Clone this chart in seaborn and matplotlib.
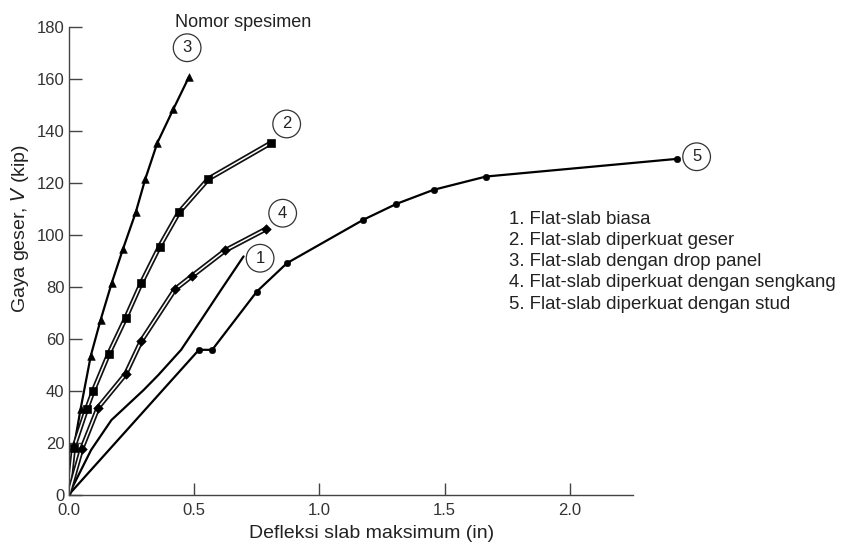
import pandas as pd
import matplotlib
matplotlib.use("Agg")
import matplotlib.pyplot as plt
import seaborn as sns

# --------- Dades (llegides del gràfic) ---------
# 1. Flat-slab biasa (sense marcadors)
x1 = [0.0, 0.09, 0.171, 0.30, 0.357, 0.449, 0.529, 0.608, 0.698]
y1 = [0.0, 17.3, 28.8, 40.4, 46.0, 55.8, 67.3, 78.8, 91.7]
# 2. Flat-slab diperkuat geser (quadrats, línia doble)
x2 = [0.0, 0.02, 0.072, 0.099, 0.16, 0.228, 0.29, 0.363, 0.44, 0.558, 0.807]
y2 = [0.0, 18.0, 33.0, 40.1, 54.2, 68.0, 81.4, 95.5, 108.6, 121.5, 135.3]
# 3. Flat-slab dengan drop panel (triangles)
x3 = [0.0, 0.023, 0.048, 0.089, 0.128, 0.172, 0.217, 0.268, 0.306, 0.354, 0.418, 0.48]
y3 = [0.0, 19.2, 33.0, 53.6, 67.3, 81.4, 94.5, 108.6, 121.4, 135.3, 148.3, 160.6]
# 4. Flat-slab diperkuat dengan sengkang (diamants, línia doble)
x4 = [0.0, 0.052, 0.118, 0.228, 0.29, 0.425, 0.493, 0.625, 0.787]
y4 = [0.0, 17.6, 33.6, 46.5, 59.2, 79.1, 84.2, 94.0, 102.2]
# 5. Flat-slab diperkuat dengan stud (cercles)
x5 = [0.0, 0.52, 0.573, 0.751, 0.871, 1.176, 1.308, 1.456, 1.665, 2.428]
y5 = [0.0, 55.8, 55.8, 78.2, 89.1, 105.8, 111.9, 117.3, 122.4, 129.2]

etiquetes = ["1", "2", "3", "4", "5"]
pos_x = [0.764, 0.870, 0.473, 0.854, 2.505]
pos_y = [91.0, 142.6, 171.9, 108.3, 130.0]

llegenda = [
    "1. Flat-slab biasa",
    "2. Flat-slab diperkuat geser",
    "3. Flat-slab dengan drop panel",
    "4. Flat-slab diperkuat dengan sengkang",
    "5. Flat-slab diperkuat dengan stud",
]

sns.set_style("white")
plt.rcParams["font.family"] = ["Liberation Sans", "DejaVu Sans"]

fig = plt.figure(figsize=(8.48, 5.45), dpi=100)
ax = fig.add_axes([0.0808, 0.0917, 0.7688, 0.8594])

df1 = pd.DataFrame({"x": x1, "y": y1})
df2 = pd.DataFrame({"x": x2, "y": y2})
df3 = pd.DataFrame({"x": x3, "y": y3})
df4 = pd.DataFrame({"x": x4, "y": y4})
df5 = pd.DataFrame({"x": x5, "y": y5})

kw = dict(x="x", y="y", sort=False, estimator=None, ax=ax)

# línia simple
sns.lineplot(data=df1, color="black", lw=1.6, **kw)
sns.lineplot(data=df3, color="black", lw=1.6, **kw)
sns.lineplot(data=df5, color="black", lw=1.6, **kw)

# línies dobles
for d in (df2, df4):
    sns.lineplot(data=d, color="#111111", lw=3.6, **kw)
    sns.lineplot(data=d, color="white", lw=1.1, **kw)

# marcadors
sns.scatterplot(data=df3.iloc[1:], x="x", y="y", marker="^", s=30, color="black",
                edgecolor="black", ax=ax, zorder=5)
sns.scatterplot(data=df2.iloc[1:], x="x", y="y", marker="s", s=34, color="black",
                edgecolor="black", ax=ax, zorder=5)
sns.scatterplot(data=df4.iloc[1:], x="x", y="y", marker="D", s=24, color="black",
                edgecolor="black", ax=ax, zorder=5)
sns.scatterplot(data=df5.iloc[1:], x="x", y="y", marker="o", s=22, color="black",
                edgecolor="black", ax=ax, zorder=5)

for t, px, py in zip(etiquetes, pos_x, pos_y):
    ax.text(px, py, t, ha="center", va="center", fontsize=12, color="#222222",
            clip_on=False,
            bbox=dict(boxstyle="circle,pad=0.38", fc="white", ec="#333333", lw=0.9))

ax.text(0.698, 181.5, "Nomor spesimen", ha="center", va="center", fontsize=13,
        color="#222222", clip_on=False)

for i, linia in enumerate(llegenda):
    fig.text(509 / 848, 1 - (219 + i * 21.3) / 545, linia, ha="left", va="center",
             fontsize=13.4, color="#222222")

ax.set_xlim(0, 2.6)
ax.set_ylim(0, 180)
ax.set_xticks([0.0, 0.5, 1.0, 1.5, 2.0])
ax.set_xticklabels(["0.0", "0.5", "1.0", "1.5", "2.0"])
ax.set_yticks(range(0, 181, 20))
ax.set_xlabel("")
ax.set_ylabel("")

for s in ("top", "right"):
    ax.spines[s].set_visible(False)
for s in ("left", "bottom"):
    ax.spines[s].set_color("#444444")
    ax.spines[s].set_linewidth(1.0)
ax.spines["bottom"].set_bounds(0, 2.25)
ax.spines["left"].set_bounds(0, 180)
ax.tick_params(direction="in", length=9, width=1.0, color="#444444",
               labelcolor="#333333", labelsize=12, left=True, bottom=True, pad=3)
ax.tick_params(axis="x", pad=6)

fig.text(20 / 848, 1 - 228 / 545, "Gaya geser, $\\mathit{V}$ (kip)", rotation=90,
         ha="center", va="center", fontsize=14, color="#222222")
fig.text(372 / 848, 1 - 533 / 545, "Defleksi slab maksimum (in)", ha="center",
         va="center", fontsize=14, color="#222222")

fig.savefig("out.png", dpi=100)
